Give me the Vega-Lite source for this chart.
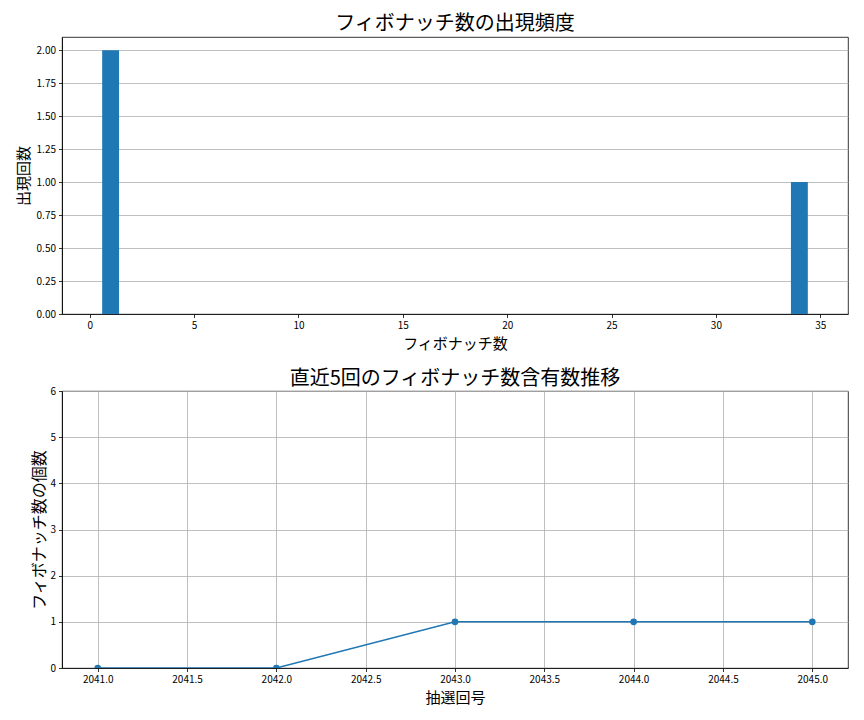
{
  "$schema": "https://vega.github.io/schema/vega-lite/v6.json",
  "description": "Fibonacci number frequency and recent 5 draws",
  "padding": {"left": 15, "top": 13, "right": 10, "bottom": 5},
  "spacing": 16,
  "datasets": {
    "freq": [
      {"fib": 1, "count": 2},
      {"fib": 34, "count": 1}
    ],
    "recent": [
      {"draw": 2041, "n": 0},
      {"draw": 2042, "n": 0},
      {"draw": 2043, "n": 1},
      {"draw": 2044, "n": 1},
      {"draw": 2045, "n": 1}
    ]
  },
  "vconcat": [
    {
      "width": 786,
      "height": 277,
      "data": {"name": "freq"},
      "title": {"text": "フィボナッチ数の出現頻度", "fontSize": 20, "fontWeight": "normal", "offset": 3},
      "mark": {"type": "bar", "color": "#1f77b4", "size": 16.9},
      "encoding": {
        "x": {
          "field": "fib",
          "type": "quantitative",
          "title": "フィボナッチ数",
          "scale": {"domain": [-1.09, 36.09], "nice": false, "zero": false},
          "axis": {"values": [0, 5, 10, 15, 20, 25, 30, 35], "grid": false, "format": "d"}
        },
        "y": {
          "field": "count",
          "type": "quantitative",
          "title": "出現回数",
          "scale": {"domain": [0, 2.1], "nice": false},
          "axis": {"values": [0, 0.25, 0.5, 0.75, 1, 1.25, 1.5, 1.75, 2], "format": ".2f", "grid": true, "titlePadding": 5}
        }
      }
    },
    {
      "width": 786,
      "height": 277,
      "data": {"name": "recent"},
      "title": {"text": "直近5回のフィボナッチ数含有数推移", "fontSize": 20, "fontWeight": "normal", "offset": -3},
      "mark": {"type": "line", "color": "#1f77b4", "strokeWidth": 1.5, "clip": true, "point": {"filled": true, "size": 45, "color": "#1f77b4"}},
      "encoding": {
        "x": {
          "field": "draw",
          "type": "quantitative",
          "title": "抽選回号",
          "scale": {"domain": [2040.8, 2045.2], "nice": false, "zero": false},
          "axis": {"values": [2041, 2041.5, 2042, 2042.5, 2043, 2043.5, 2044, 2044.5, 2045], "format": ".1f", "grid": true}
        },
        "y": {
          "field": "n",
          "type": "quantitative",
          "title": "フィボナッチ数の個数",
          "scale": {"domain": [0, 6], "nice": false},
          "axis": {"values": [0, 1, 2, 3, 4, 5, 6], "format": "d", "grid": true, "titleFontSize": 16, "titlePadding": 2}
        }
      }
    }
  ],
  "config": {
    "font": "Noto Sans CJK JP",
    "view": {"stroke": "#000000", "strokeWidth": 0.8},
    "title": {"color": "#000000", "anchor": "middle"},
    "axis": {
      "domainColor": "#000000",
      "domainWidth": 0.8,
      "tickColor": "#000000",
      "tickWidth": 0.8,
      "tickSize": 3.5,
      "labelPadding": 3,
      "labelFontSize": 10,
      "labelColor": "#000000",
      "titleFontSize": 15,
      "titleFontWeight": "normal",
      "titleColor": "#000000",
      "gridColor": "#b0b0b0",
      "gridWidth": 0.8,
      "labelFlush": false
    },
    "axisX": {"titlePadding": 6},
    "axisY": {"titlePadding": 4}
  }
}
